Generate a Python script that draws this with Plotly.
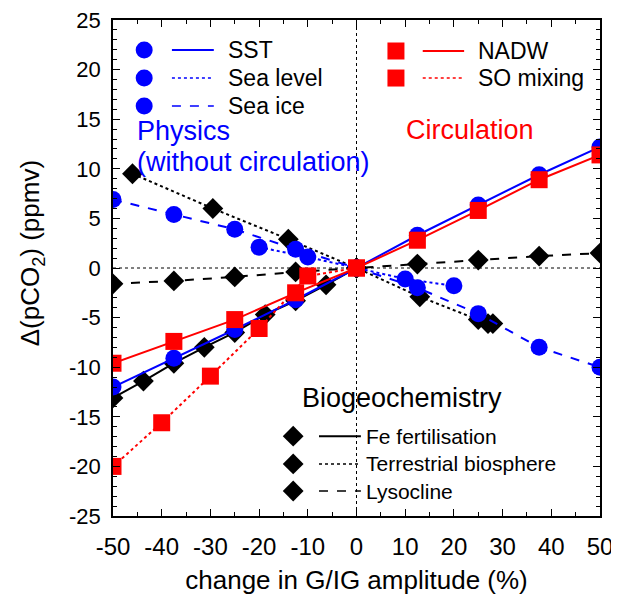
import plotly.graph_objects as go

# model sensitivity: change in G/IG amplitude (%) vs delta pCO2 (ppmv)
sst_x = [-50, -37.5, -25, -12.5, 0, 12.5, 25, 37.5, 50]
sst_y = [-12.0, -9.1, -6.2, -3.2, 0, 3.3, 6.35, 9.4, 12.2]

sealevel_x = [-20, -10, 0, 10, 20]
sealevel_y = [2.1, 1.1, 0, -1.1, -1.8]

seaice_x = [-50, -37.5, -25, -12.5, 0, 12.5, 25, 37.5, 50]
seaice_y = [6.9, 5.4, 3.9, 1.9, 0, -2.0, -4.6, -8.0, -10.0]

nadw_x = [-50, -37.5, -25, -12.5, 0, 12.5, 25, 37.5, 50]
nadw_y = [-9.6, -7.4, -5.2, -2.5, 0, 2.8, 5.8, 8.9, 11.4]

somix_x = [-50, -40, -30, -20, -10, 0]
somix_y = [-20.0, -15.6, -10.9, -6.1, -0.8, 0]

fe_x = [-50, -43.75, -37.5, -31.25, -25, -18.75, -12.5, -6.25, 0]
fe_y = [-13.1, -11.4, -9.6, -8.0, -6.5, -4.7, -3.3, -1.7, 0]

terr_x = [-46, -29.5, -14, 0, 13, 25, 27, 28]
terr_y = [9.5, 6.0, 2.9, 0, -2.9, -5.2, -5.6, -5.6]

lyso_x = [-50, -37.5, -25, -12.5, 0, 12.5, 25, 37.5, 50]
lyso_y = [-1.6, -1.3, -0.9, -0.4, 0, 0.4, 0.8, 1.2, 1.5]

x_ticks = [-50, -40, -30, -20, -10, 0, 10, 20, 30, 40, 50]
y_ticks = [-25, -20, -15, -10, -5, 0, 5, 10, 15, 20, 25]

BLUE = '#0000ff'
RED = '#ff0000'
BLACK = '#000000'
FONT = 'Liberation Sans, Arial, sans-serif'
DIAMOND = 16

fig = go.Figure()


def add_series(x, y, color, dash, symbol, size):
    fig.add_trace(go.Scatter(
        x=x, y=y, mode='lines+markers',
        line={'color': color, 'width': 2, 'dash': dash},
        marker={'color': color, 'symbol': symbol, 'size': size, 'line': {'width': 0}},
        showlegend=False, hoverinfo='skip'))


add_series(lyso_x, lyso_y, BLACK, 'dash', 'diamond', DIAMOND)
add_series(terr_x, terr_y, BLACK, 'dot', 'diamond', DIAMOND)
add_series(fe_x, fe_y, BLACK, 'solid', 'diamond', DIAMOND)
add_series(seaice_x, seaice_y, BLUE, 'dash', 'circle', 17)
add_series(sealevel_x, sealevel_y, BLUE, 'dot', 'circle', 17)
add_series(sst_x, sst_y, BLUE, 'solid', 'circle', 17)
add_series(somix_x, somix_y, RED, 'dot', 'square', 17)
add_series(nadw_x, nadw_y, RED, 'solid', 'square', 17)

# legend keys (plot-area fractions)
legend_groups = [
    # (marker x, line x0, line x1, text x, ys, color, symbol, size, dashes, labels, fontsize)
    (0.064, 0.121, 0.207, 0.232, [0.9395, 0.883, 0.8266], BLUE, 'circle', 17,
     ['solid', 'dot', 'dash'], ['SST', 'Sea level', 'Sea ice'], 23),
    (0.581, 0.636, 0.721, 0.745, [0.9375, 0.883], RED, 'square', 17,
     ['solid', 'dot'], ['NADW', 'SO mixing'], 23),
    (0.370, 0.423, 0.509, 0.516, [0.161, 0.105, 0.0504], BLACK, 'diamond', DIAMOND,
     ['solid', 'dot', 'dash'], ['Fe fertilisation', 'Terrestrial biosphere', 'Lysocline'], 21),
]

for mx, lx0, lx1, tx, ys, color, symbol, size, dashes, labels, fs in legend_groups:
    fig.add_trace(go.Scatter(
        x=[mx] * len(ys), y=ys, mode='markers', xaxis='x2', yaxis='y2',
        marker={'color': color, 'symbol': symbol, 'size': size, 'line': {'width': 0}},
        showlegend=False, hoverinfo='skip'))
    for yy, dash, lab in zip(ys, dashes, labels):
        fig.add_shape(type='line', xref='x domain', yref='y domain',
                      x0=lx0, x1=lx1, y0=yy, y1=yy,
                      line={'color': color, 'width': 2 if dash == 'solid' else 1.5, 'dash': dash})
        fig.add_annotation(xref='x domain', yref='y domain', x=tx, y=yy, text=lab,
                           showarrow=False, xanchor='left', yanchor='middle',
                           font={'size': fs, 'color': BLACK, 'family': FONT})

group_titles = [
    ('Physics', 0.045, 0.776, 'left', BLUE),
    ('(without circulation)', 0.045, 0.714, 'left', BLUE),
    ('Circulation', 0.733, 0.778, 'center', RED),
    ('Biogeochemistry', 0.385, 0.238, 'left', BLACK),
]
for txt, tx, ty, anchor, color in group_titles:
    fig.add_annotation(xref='x domain', yref='y domain', x=tx, y=ty, text=txt,
                       showarrow=False, xanchor=anchor, yanchor='middle',
                       font={'size': 27, 'color': color, 'family': FONT})

# y axis title placed by hand (axis title is clamped inside the margin)
fig.add_annotation(xref='x domain', yref='y domain', x=-0.168, y=0.53,
                   text='Δ(pCO<sub>2</sub>) (ppmv)', textangle=-90, showarrow=False,
                   xanchor='center', yanchor='middle',
                   font={'size': 26, 'color': BLACK, 'family': FONT})

# zero reference lines
fig.add_shape(type='line', xref='x', yref='y domain', x0=0, x1=0, y0=0, y1=1,
              line={'color': BLACK, 'width': 1, 'dash': 'dot'}, layer='below')
fig.add_shape(type='line', xref='x domain', yref='y', x0=0, x1=1, y0=0, y1=0,
              line={'color': BLACK, 'width': 1, 'dash': 'dot'}, layer='below')

axis_common = dict(showline=True, linecolor=BLACK, linewidth=1.5, mirror='allticks',
                   ticks='inside', ticklen=7, tickwidth=1, tickcolor=BLACK,
                   showgrid=False, zeroline=False, automargin=False, tickmode='array',
                   ticklabeloverflow='allow')

# page body has an 8px margin, so the figure is a bit smaller than the window
fig.update_layout(
    width=611, height=589,
    margin={'l': 105, 'r': 19, 't': 12, 'b': 81},
    plot_bgcolor='white', paper_bgcolor='white',
    xaxis=dict(axis_common, range=[-50, 50],
               tickvals=x_ticks, ticktext=[str(v) for v in x_ticks],
               tickfont={'size': 24, 'color': BLACK, 'family': FONT},
               ticklabelstandoff=8,
               minor={'dtick': 5, 'ticks': 'inside', 'ticklen': 4, 'tickcolor': BLACK},
               title={'text': 'change in G/IG amplitude (%)',
                      'font': {'size': 26, 'color': BLACK, 'family': FONT}, 'standoff': 12}),
    yaxis=dict(axis_common, range=[-25, 25],
               tickvals=y_ticks, ticktext=[str(v) for v in y_ticks],
               tickfont={'size': 22, 'color': BLACK, 'family': FONT},
               ticklabelstandoff=6,
               minor={'dtick': 1, 'ticks': 'inside', 'ticklen': 4, 'tickcolor': BLACK}),
    xaxis2=dict(overlaying='x', range=[0, 1], visible=False, fixedrange=True),
    yaxis2=dict(overlaying='y', range=[0, 1], visible=False, fixedrange=True),
)

fig.write_html("out.html")
